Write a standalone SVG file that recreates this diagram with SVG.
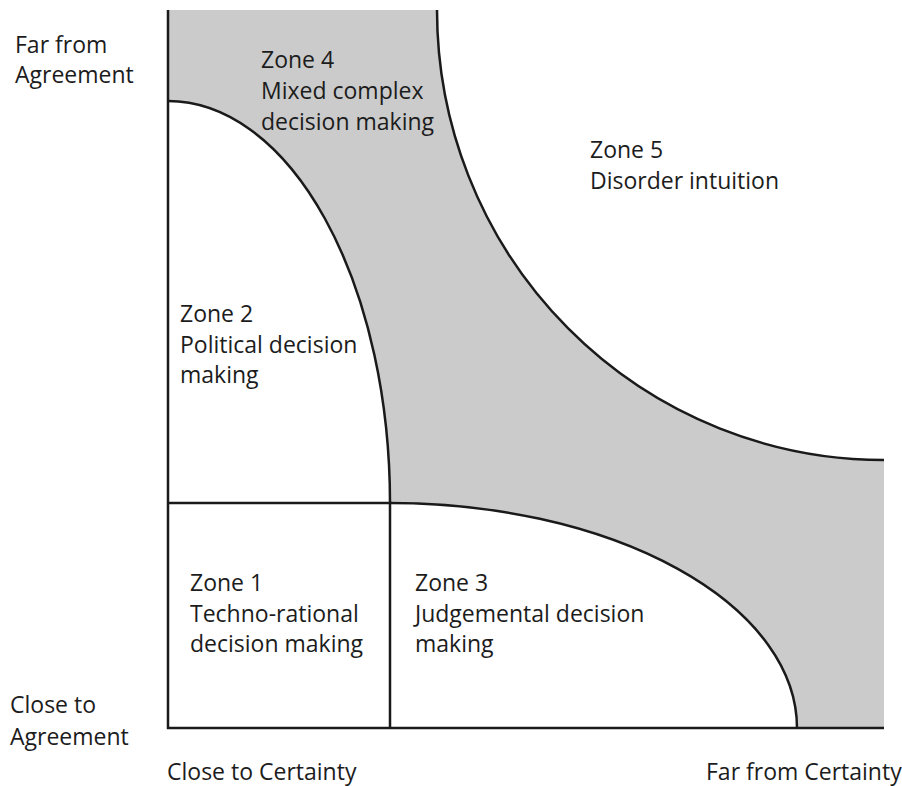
<svg xmlns="http://www.w3.org/2000/svg" width="902" height="786" viewBox="0 0 902 786">
<style>
  text { font-family: "Open Sans", "Liberation Sans", sans-serif; font-size: 23px; fill: #1c1c1c; }
  .ln { fill: none; stroke: #1a1a1a; stroke-width: 2.5; }
  .zone { fill: #cbcbcb; stroke: none; }
</style>
<rect width="902" height="786" fill="#fff"/>
<g id="zone4-zone5-band">
  <path class="zone" d="M168,10 L437,10 A447,450 0 0,0 884,460 L884,728 L797,728 A407,225 0 0,0 390,503 A222,402 0 0,0 168,101 Z"/>
</g>
<g id="connectors">
  <path class="ln" d="M437,10 A447,450 0 0,0 884,460"/>
  <path class="ln" d="M797,728 A407,225 0 0,0 390,503"/>
  <path class="ln" d="M390,503 A222,402 0 0,0 168,101"/>
  <path class="ln" d="M168,10 L168,728 L884,728"/>
  <path class="ln" d="M168,503 L390,503 L390,728"/>
</g>
<g id="zone1">
  <text x="190" y="591">Zone 1</text>
  <text x="190" y="622">Techno-rational</text>
  <text x="190" y="652">decision making</text>
</g>
<g id="zone2">
  <text x="180" y="322">Zone 2</text>
  <text x="180" y="353">Political decision</text>
  <text x="180" y="383">making</text>
</g>
<g id="zone3">
  <text x="415" y="591">Zone 3</text>
  <text x="415" y="622">Judgemental decision</text>
  <text x="415" y="652">making</text>
</g>
<g id="zone4">
  <text x="261" y="68">Zone 4</text>
  <text x="261" y="99">Mixed complex</text>
  <text x="261" y="130">decision making</text>
</g>
<g id="zone5">
  <text x="590" y="158">Zone 5</text>
  <text x="590" y="189">Disorder intuition</text>
</g>
<g id="axis-labels">
  <text x="15" y="53">Far from</text>
  <text x="15" y="83">Agreement</text>
  <text x="10" y="713">Close to</text>
  <text x="10" y="745">Agreement</text>
  <text x="167" y="780">Close to Certainty</text>
  <text x="706" y="780">Far from Certainty</text>
</g>
</svg>
